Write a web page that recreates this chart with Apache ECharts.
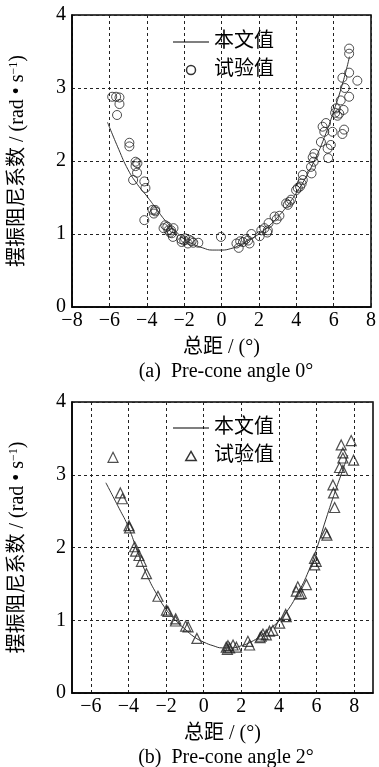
<!DOCTYPE html>
<html>
<head>
<meta charset="utf-8">
<script src="https://cdn.jsdelivr.net/npm/echarts@6/dist/echarts.min.js"></script>
<style>html,body{margin:0;padding:0;background:#fff}#c{width:379px;height:767px}</style>
</head>
<body>
<div id="c"></div>
<script>
// ---- Data (a) Pre-cone angle 0° ----
const curveA_x = [-6.1, -5.5, -5.0, -4.5, -4.0, -3.5, -3.0, -2.5, -2.0, -1.5, -1.0, -0.5, 0.0, 0.5, 1.0, 1.5, 2.0, 2.5, 3.0, 3.5, 4.0, 4.5, 5.0, 5.5, 6.0, 6.5, 6.85];
const curveA_y = [2.53, 2.16, 1.88, 1.68, 1.52, 1.35, 1.18, 1.05, 0.93, 0.86, 0.81, 0.78, 0.78, 0.80, 0.85, 0.92, 1.00, 1.10, 1.23, 1.38, 1.56, 1.77, 2.02, 2.32, 2.68, 3.08, 3.43];
const expA_x = [-5.85, -5.64, -5.46, -5.46, -5.59, -4.93, -4.93, -4.6, -4.5, -4.6, -4.52, -4.73, -4.13, -4.07,
  -4.13, -3.69, -3.54, -3.62, -3.55, -3.01, -2.84, -2.66, -2.57, -3.1, -2.6, -2.75, -2.9, -2.7,
  -2.16, -2.13, -1.95, -1.6, -1.51, -1.24, -1.72, -2.0, -1.8, -0.03,
  0.8, 0.92, 1.15, 1.42, 1.6, 1.5, 1.0, 1.3, 2.04, 2.13, 2.48, 2.52, 2.3, 2.45, 2.84, 3.1, 2.95,
  3.46, 3.64, 3.72, 3.55, 3.99, 4.08, 4.29, 4.35, 4.2, 4.35, 4.82, 4.79, 4.93, 4.88, 4.97,
  5.71, 5.68, 5.85, 5.32, 5.5, 5.41, 5.59, 5.94, 6.56, 6.47, 6.08, 6.3, 6.21, 6.53, 6.12, 6.38,
  6.83, 6.6, 6.47, 7.27, 6.83, 6.83, 6.83];
const expA_y = [2.88, 2.88, 2.87, 2.78, 2.63, 2.25, 2.2, 1.99, 1.97, 1.93, 1.84, 1.74, 1.72, 1.63,
  1.19, 1.33, 1.31, 1.28, 1.33, 1.12, 1.05, 1.01, 1.08, 1.08, 0.96, 1.02, 1.1, 1.05,
  0.93, 0.89, 0.94, 0.9, 0.88, 0.88, 0.92, 0.91, 0.87, 0.96,
  0.87, 0.81, 0.89, 0.91, 1.0, 0.87, 0.9, 0.93, 0.97, 1.05, 1.05, 1.15, 1.08, 1.02, 1.24, 1.25, 1.2,
  1.42, 1.44, 1.47, 1.4, 1.6, 1.63, 1.69, 1.74, 1.65, 1.81, 1.83, 1.92, 1.99, 2.05, 2.1,
  2.04, 2.17, 2.22, 2.26, 2.4, 2.47, 2.52, 2.4, 2.43, 2.37, 2.66, 2.65, 2.62, 2.7, 2.72, 2.83,
  2.88, 3.0, 3.14, 3.1, 3.21, 3.47, 3.54];

// ---- Data (b) Pre-cone angle 2° ----
const curveB_x = [-5.2, -4.5, -4.0, -3.5, -3.0, -2.5, -2.0, -1.5, -1.0, -0.5, 0.0, 0.5, 1.0, 1.5, 2.0, 2.5, 3.0, 3.5, 4.0, 4.5, 5.0, 5.5, 6.0, 6.5, 7.0, 7.4, 7.66];
const curveB_y = [2.89, 2.54, 2.28, 1.93, 1.61, 1.36, 1.15, 1.00, 0.88, 0.77, 0.70, 0.65, 0.62, 0.62, 0.65, 0.70, 0.78, 0.88, 0.99, 1.15, 1.37, 1.63, 1.98, 2.39, 2.78, 3.07, 3.27];
const expB_x = [-4.82, -4.43, -4.32, -3.97, -3.94, -3.67, -3.62, -3.44, -3.31, -3.04, -2.43, -1.98, -1.9, -1.49, -1.5, -0.96, -0.83, -0.36,
  1.29, 1.38, 1.56, 1.26, 1.74, 1.2, 2.35, 2.44, 3.06, 3.15, 3.33, 3.5, 3.68, 3.0, 4.04, 4.36, 4.39,
  4.92, 5.0, 5.1, 5.19, 5.46, 5.89, 5.98, 5.9, 6.48, 6.55, 6.96, 6.9, 6.87, 7.22, 7.4, 7.4, 7.4, 7.31, 7.84, 7.97];
const expB_y = [3.24, 2.75, 2.67, 2.30, 2.27, 2.01, 1.95, 1.89, 1.81, 1.64, 1.33, 1.14, 1.12, 1.02, 0.99, 0.92, 0.91, 0.75,
  0.65, 0.62, 0.66, 0.60, 0.63, 0.63, 0.71, 0.66, 0.78, 0.81, 0.80, 0.85, 0.86, 0.76, 0.96, 1.08, 1.05,
  1.40, 1.46, 1.36, 1.37, 1.49, 1.85, 1.81, 1.76, 2.20, 2.17, 2.55, 2.75, 2.86, 3.10, 3.06, 3.23, 3.30, 3.41, 3.47, 3.20];

const ticksA = [-8, -6, -4, -2, 0, 2, 4, 6, 8];
const ticksB = [-6, -4, -2, 0, 2, 4, 6, 8];

const names = { line: '本文值', exp: '试验值' };
const captions = ['(a)  Pre-cone angle 0°', '(b)  Pre-cone angle 2°'];
const xName = '总距 / (°)';
const yName = '摆振阻尼系数 / (rad • s{sup|−1})';

const zip = (a, b) => a.map((v, i) => [v, b[i]]);
const FONT = "'Liberation Serif','Noto Sans CJK SC',serif";
const fmt = v => String(v).replace('-', '\u2212');

const chart = echarts.init(document.getElementById('c'), null, { renderer: 'canvas' });

const grids = [
  { left: 72, top: 15, width: 301, height: 292 },
  { left: 72, top: 402, width: 301, height: 291 }
];

function xAxis(idx, min, max, ticks) {
  return {
    gridIndex: idx, type: 'value', min: min, max: max,
    name: xName, nameLocation: 'middle', nameGap: 31,
    nameTextStyle: { fontFamily: FONT, fontSize: 20, color: '#000' },
    axisLine: { show: true, onZero: false, lineStyle: { color: '#000', width: 1.5 } },
    axisTick: { show: false, customValues: ticks },
    axisLabel: { customValues: ticks, formatter: fmt, fontFamily: FONT, fontSize: 20, color: '#000', margin: 4 },
    splitLine: { show: true, lineStyle: { color: '#222', type: [3, 3], width: 1 } }
  };
}
function yAxis(idx) {
  return {
    gridIndex: idx, type: 'value', min: 0, max: 4, interval: 1,
    name: yName, nameLocation: 'middle', nameGap: 44, nameRotate: 90,
    nameTextStyle: {
      fontFamily: FONT, fontSize: 20, color: '#000',
      rich: { sup: { fontFamily: FONT, fontSize: 12, color: '#000', verticalAlign: 'top', padding: [0, 0, 8, 0] } }
    },
    axisLine: { show: true, onZero: false, lineStyle: { color: '#000', width: 1.5 } },
    axisTick: { show: false },
    axisLabel: { formatter: fmt, fontFamily: FONT, fontSize: 20, color: '#000', margin: 6 },
    splitLine: { show: true, lineStyle: { color: '#222', type: [3, 3], width: 1 } }
  };
}

function legend(top, icon) {
  return {
    orient: 'vertical', left: 168, top: top, itemWidth: 36, itemHeight: 9, itemGap: 8,
    symbolKeepAspect: true,
    textStyle: { fontFamily: FONT, fontSize: 20, color: '#000' },
    data: [
      { name: names.line, icon: 'path://M0,0L100,0L100,3L0,3Z', itemStyle: { color: '#000' } },
      { name: names.exp, icon: icon, itemStyle: { color: 'rgba(0,0,0,0)', borderColor: '#000', borderWidth: 1.5 } }
    ]
  };
}

const option = {
  backgroundColor: '#fff',
  animation: false,
  grid: grids.map(g => Object.assign({ show: true, borderColor: '#000', borderWidth: 1.5, backgroundColor: 'transparent' }, g)),
  xAxis: [xAxis(0, -8, 8, ticksA), xAxis(1, -7, 9, ticksB)],
  yAxis: [yAxis(0), yAxis(1)],
  legend: [legend(27, 'circle'), legend(413, 'path://M5,0L10,8.66L0,8.66Z')],
  series: [
    { name: names.line, type: 'line', xAxisIndex: 0, yAxisIndex: 0, data: zip(curveA_x, curveA_y), smooth: true, symbol: 'none',
      lineStyle: { color: '#333', width: 1 }, itemStyle: { color: '#000' } },
    { name: names.exp, type: 'scatter', xAxisIndex: 0, yAxisIndex: 0, data: zip(expA_x, expA_y), symbol: 'circle', symbolSize: 9,
      itemStyle: { color: 'rgba(0,0,0,0)', borderColor: '#222', borderWidth: 1 } },
    { name: names.line, type: 'line', xAxisIndex: 1, yAxisIndex: 1, data: zip(curveB_x, curveB_y), smooth: true, symbol: 'none',
      lineStyle: { color: '#333', width: 1 }, itemStyle: { color: '#000' } },
    { name: names.exp, type: 'scatter', xAxisIndex: 1, yAxisIndex: 1, data: zip(expB_x, expB_y), symbol: 'triangle', symbolSize: 10,
      itemStyle: { color: 'rgba(0,0,0,0)', borderColor: '#222', borderWidth: 1.2 } }
  ],
  graphic: [
    { type: 'text', x: 226, y: 372, style: { text: captions[0], fontFamily: FONT, fontSize: 20, fill: '#000', textAlign: 'center', textVerticalAlign: 'middle' } },
    { type: 'text', x: 226, y: 758, style: { text: captions[1], fontFamily: FONT, fontSize: 20, fill: '#000', textAlign: 'center', textVerticalAlign: 'middle' } }
  ]
};
chart.setOption(option);
</script>
</body>
</html>
